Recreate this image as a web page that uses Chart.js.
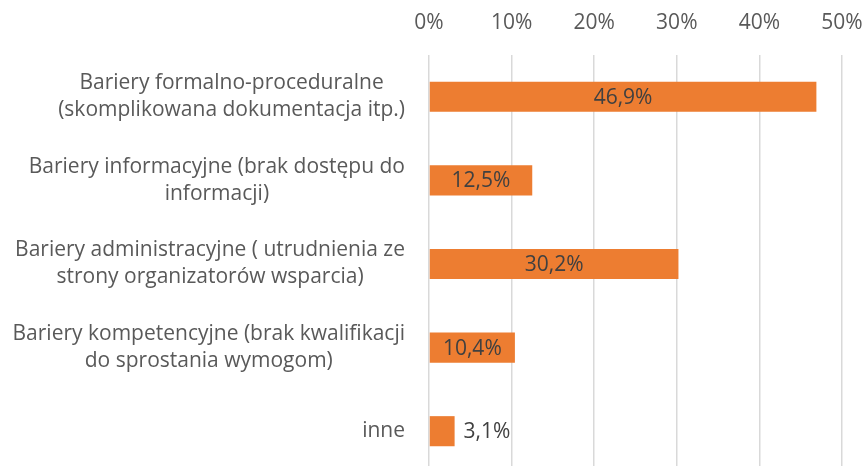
<!DOCTYPE html>
<html lang="pl">
<head>
<meta charset="utf-8">
<script src="https://cdn.jsdelivr.net/npm/chart.js@4.4.1/dist/chart.umd.min.js"></script>
<style>
  html, body { margin: 0; padding: 0; background: #fff; overflow: hidden; }
  #wrap { width: 864px; height: 466px; overflow: hidden; }
</style>
</head>
<body>
<!-- plot runs a few pixels past the bottom edge, so the canvas is taller than the frame -->
<div id="wrap"><canvas id="barriersChart" width="864" height="473"></canvas></div>
<script>
// Categories (two-line labels where the text wraps)
const categories = [
    ['Bariery formalno-proceduralne', '(skomplikowana dokumentacja itp.)'],
    ['Bariery informacyjne (brak dostępu do', 'informacji)'],
    ['Bariery administracyjne ( utrudnienia ze', 'strony organizatorów wsparcia)'],
    ['Bariery kompetencyjne (brak kwalifikacji', 'do sprostania wymogom)'],
    ['inne']
];

// Share of answers, in percent
const shares = [46.9, 12.5, 30.2, 10.4, 3.1];

const FONT = "'Open Sans', Lato, sans-serif";
const FONT_SIZE = 21;
const LABEL_LINE = 27;
const LABEL_GAP = 24;

// Category labels: each block sits against the axis, its lines centered on each other
const categoryLabels = {
    id: 'categoryLabels',
    afterDraw(chart) {
        const ctx = chart.ctx;
        const yScale = chart.scales.y;
        const right = chart.chartArea.left - LABEL_GAP;
        ctx.save();
        ctx.font = FONT_SIZE + 'px ' + FONT;
        ctx.fillStyle = '#595959';
        ctx.textAlign = 'center';
        ctx.textBaseline = 'middle';
        categories.forEach((lines, i) => {
            const widest = Math.max(...lines.map(l => ctx.measureText(l).width));
            const cx = right - widest / 2;
            const cy = yScale.getPixelForTick(i);
            lines.forEach((line, j) => {
                ctx.fillText(line, cx, cy + (j - (lines.length - 1) / 2) * LABEL_LINE);
            });
        });
        ctx.restore();
    }
};

// Writes the value on each bar: centered inside, or just right of a short bar
const valueLabels = {
    id: 'valueLabels',
    afterDatasetsDraw(chart) {
        const ctx = chart.ctx;
        const meta = chart.getDatasetMeta(0);
        ctx.save();
        ctx.font = FONT_SIZE + 'px ' + FONT;
        ctx.fillStyle = '#404040';
        ctx.textBaseline = 'middle';
        meta.data.forEach((bar, i) => {
            const text = shares[i].toFixed(1).replace('.', ',') + '%';
            const w = ctx.measureText(text).width;
            const barLen = bar.x - bar.base;
            if (barLen > w) {
                ctx.textAlign = 'center';
                ctx.fillText(text, bar.base + barLen / 2, bar.y + 1);
            } else {
                ctx.textAlign = 'left';
                ctx.fillText(text, bar.x + 9, bar.y + 1);
            }
        });
        ctx.restore();
    }
};

const ctx = document.getElementById('barriersChart').getContext('2d');
new Chart(ctx, {
    type: 'bar',
    data: {
        labels: categories.map(l => l.join(' ')),
        datasets: [{
            data: shares,
            backgroundColor: '#ED7D31',
            barPercentage: 0.6,
            categoryPercentage: 0.6
        }]
    },
    options: {
        indexAxis: 'y',
        responsive: false,
        animation: false,
        plugins: {
            legend: { display: false },
            tooltip: { enabled: false }
        },
        scales: {
            x: {
                position: 'top',
                min: 0,
                max: 50,
                ticks: {
                    stepSize: 10,
                    padding: 19,
                    color: '#595959',
                    font: { family: FONT, size: FONT_SIZE },
                    callback: v => v + '%'
                },
                grid: { color: '#d9d9d9', lineWidth: 1.5, drawTicks: false },
                border: { display: false },
                afterFit: scale => {
                    scale.height = 55;
                    scale.paddingLeft = 0;
                    scale.paddingRight = 22;
                }
            },
            y: {
                ticks: { display: false },
                grid: { display: false },
                border: { display: false },
                afterFit: scale => {
                    scale.width = 429;
                    scale.paddingTop = 0;
                    scale.paddingBottom = 0;
                }
            }
        }
    },
    plugins: [valueLabels, categoryLabels]
});
</script>
</body>
</html>
